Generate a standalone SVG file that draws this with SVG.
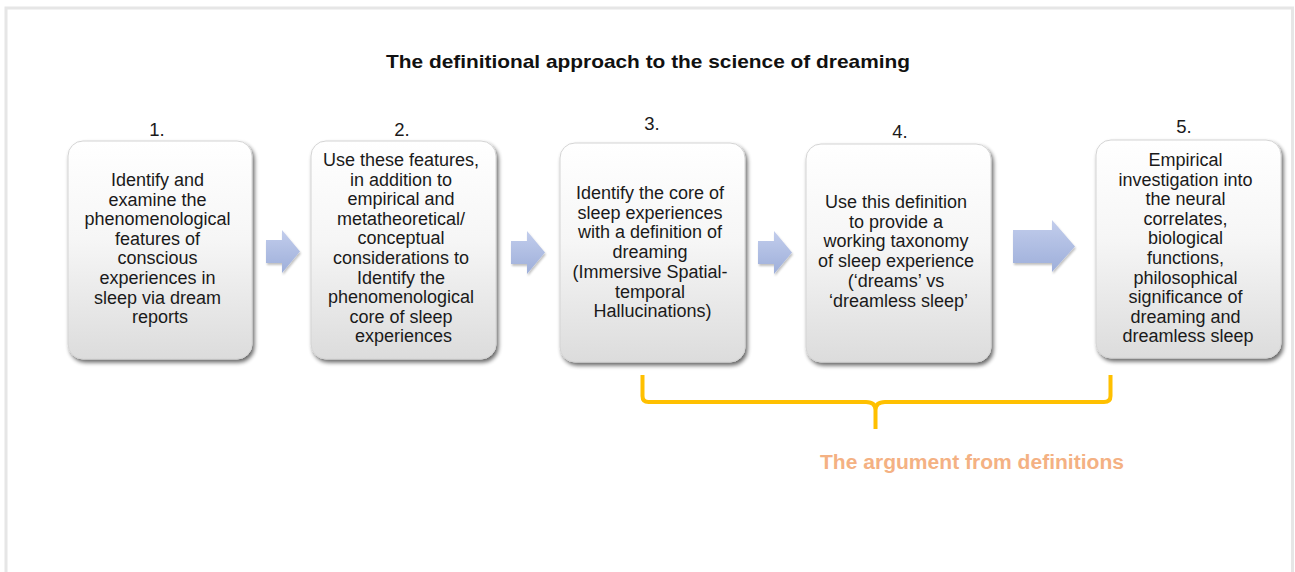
<svg xmlns="http://www.w3.org/2000/svg" width="1295" height="572" viewBox="0 0 1295 572">
  <defs>
    <linearGradient id="boxFill" x1="0" y1="0" x2="0" y2="1">
      <stop offset="0" stop-color="#ffffff"/>
      <stop offset="0.45" stop-color="#f6f6f6"/>
      <stop offset="1" stop-color="#dcdcdc"/>
    </linearGradient>
    <linearGradient id="arrowFill" x1="0" y1="0" x2="0" y2="1">
      <stop offset="0" stop-color="#c2cdec"/>
      <stop offset="1" stop-color="#9eafda"/>
    </linearGradient>
    <filter id="boxShadow" x="-10%" y="-10%" width="125%" height="125%">
      <feGaussianBlur in="SourceAlpha" stdDeviation="2"/>
      <feOffset dx="2" dy="3" result="blur"/>
      <feComponentTransfer><feFuncA type="linear" slope="0.6"/></feComponentTransfer>
      <feMerge><feMergeNode/><feMergeNode in="SourceGraphic"/></feMerge>
    </filter>
    <filter id="arrowShadow" x="-20%" y="-20%" width="150%" height="150%">
      <feGaussianBlur in="SourceAlpha" stdDeviation="1"/>
      <feOffset dx="1" dy="1.5"/>
      <feComponentTransfer><feFuncA type="linear" slope="0.25"/></feComponentTransfer>
      <feMerge><feMergeNode/><feMergeNode in="SourceGraphic"/></feMerge>
    </filter>
    <path id="arrowSmall" d="M0,10 H16 V0 L34,21.5 L16,43 V33 H0 Z"/>
  </defs>
  <style>
    .box { fill: url(#boxFill); stroke: #d4d4d4; stroke-width: 1; filter: url(#boxShadow); }
    .txt { font-family: "Liberation Sans", Arial, sans-serif; font-size: 18px; fill: #1a1a1a; text-anchor: middle; }
    .num { font-family: "Liberation Sans", Arial, sans-serif; font-size: 18.5px; fill: #1a1a1a; text-anchor: middle; }
    .title { font-family: "Liberation Sans", Arial, sans-serif; font-size: 18.5px; font-weight: bold; fill: #111111; text-anchor: middle; }
    .arrow { fill: url(#arrowFill); filter: url(#arrowShadow); }
    .brace { fill: none; stroke: #ffc000; stroke-width: 4; stroke-linejoin: round; stroke-linecap: butt; }
    .note { font-family: "Liberation Sans", Arial, sans-serif; font-size: 19.5px; font-weight: bold; fill: #f4b183; }
  </style>

  <rect width="1295" height="572" fill="#ffffff"/>
  <!-- page frame -->
  <rect x="6" y="8" width="1286.5" height="600" fill="none" stroke="#e6e6e6" stroke-width="3"/>

  <text class="title" x="648" y="68" textLength="524" lengthAdjust="spacingAndGlyphs">The definitional approach to the science of dreaming</text>

  <g id="step1">
    <text class="num" x="157" y="135.5">1.</text>
    <rect class="box" x="68" y="141" width="184" height="218" rx="15"/>
    <text class="txt" x="160" y="186">
      <tspan x="160" dy="0">Identify and</tspan>
      <tspan x="160" dy="19.6">examine the</tspan>
      <tspan x="160" dy="19.6">phenomenological</tspan>
      <tspan x="160" dy="19.6">features of</tspan>
      <tspan x="160" dy="19.6">conscious</tspan>
      <tspan x="160" dy="19.6">experiences in</tspan>
      <tspan x="160" dy="19.6">sleep via dream</tspan>
      <tspan x="160" dy="19.6">reports</tspan>
    </text>
  </g>

  <g id="step2">
    <text class="num" x="402" y="135.5">2.</text>
    <rect class="box" x="311" y="141" width="185" height="218" rx="15"/>
    <text class="txt" x="403.5" y="166">
      <tspan x="403.5" dy="0">Use these features,</tspan>
      <tspan x="403.5" dy="19.6">in addition to</tspan>
      <tspan x="403.5" dy="19.6">empirical and</tspan>
      <tspan x="403.5" dy="19.6">metatheoretical/</tspan>
      <tspan x="403.5" dy="19.6">conceptual</tspan>
      <tspan x="403.5" dy="19.6">considerations to</tspan>
      <tspan x="403.5" dy="19.6">Identify the</tspan>
      <tspan x="403.5" dy="19.6">phenomenological</tspan>
      <tspan x="403.5" dy="19.6">core of sleep</tspan>
      <tspan x="403.5" dy="19.6">experiences</tspan>
    </text>
  </g>

  <g id="step3">
    <text class="num" x="652" y="130">3.</text>
    <rect class="box" x="560" y="143" width="185" height="219" rx="15"/>
    <text class="txt" x="652.5" y="199">
      <tspan x="652.5" dy="0">Identify the core of</tspan>
      <tspan x="652.5" dy="19.7">sleep experiences</tspan>
      <tspan x="652.5" dy="19.7">with a definition of</tspan>
      <tspan x="652.5" dy="19.7">dreaming</tspan>
      <tspan x="652.5" dy="19.7">(Immersive Spatial-</tspan>
      <tspan x="652.5" dy="19.7">temporal</tspan>
      <tspan x="652.5" dy="19.7">Hallucinations)</tspan>
    </text>
  </g>

  <g id="step4">
    <text class="num" x="900" y="137.5">4.</text>
    <rect class="box" x="806" y="144" width="185" height="218" rx="15"/>
    <text class="txt" x="898.5" y="208">
      <tspan x="898.5" dy="0">Use this definition</tspan>
      <tspan x="898.5" dy="19.7">to provide a</tspan>
      <tspan x="898.5" dy="19.7">working taxonomy</tspan>
      <tspan x="898.5" dy="19.7">of sleep experience</tspan>
      <tspan x="898.5" dy="19.7">(‘dreams’ vs</tspan>
      <tspan x="898.5" dy="19.7">‘dreamless sleep’</tspan>
    </text>
  </g>

  <g id="step5">
    <text class="num" x="1184" y="133">5.</text>
    <rect class="box" x="1096" y="140" width="185" height="218" rx="15"/>
    <text class="txt" x="1188" y="166">
      <tspan x="1188" dy="0">Empirical</tspan>
      <tspan x="1188" dy="19.6">investigation into</tspan>
      <tspan x="1188" dy="19.6">the neural</tspan>
      <tspan x="1188" dy="19.6">correlates,</tspan>
      <tspan x="1188" dy="19.6">biological</tspan>
      <tspan x="1188" dy="19.6">functions,</tspan>
      <tspan x="1188" dy="19.6">philosophical</tspan>
      <tspan x="1188" dy="19.6">significance of</tspan>
      <tspan x="1188" dy="19.6">dreaming and</tspan>
      <tspan x="1188" dy="19.6">dreamless sleep</tspan>
    </text>
  </g>

  <!-- block arrows between the steps -->
  <g id="connectors">
    <use class="arrow" href="#arrowSmall" x="266" y="230"/>
    <use class="arrow" href="#arrowSmall" x="511" y="231"/>
    <use class="arrow" href="#arrowSmall" x="758" y="231"/>
    <path class="arrow" d="M1013,230 H1052 V220 L1075,246.5 L1052,272 V263 H1013 Z"/>
  </g>

  <!-- bracket grouping steps 3 to 5 -->
  <g id="argument">
    <path class="brace" d="M642.5,375 V396 Q642.5,402 648.5,402 H866 Q875.5,402 875.5,410 V429 M875.5,410 Q875.5,402 885,402 H1104 Q1110.5,402 1110.5,396 V375"/>
    <text class="note" x="820" y="469" textLength="304" lengthAdjust="spacingAndGlyphs">The argument from definitions</text>
  </g>
</svg>
